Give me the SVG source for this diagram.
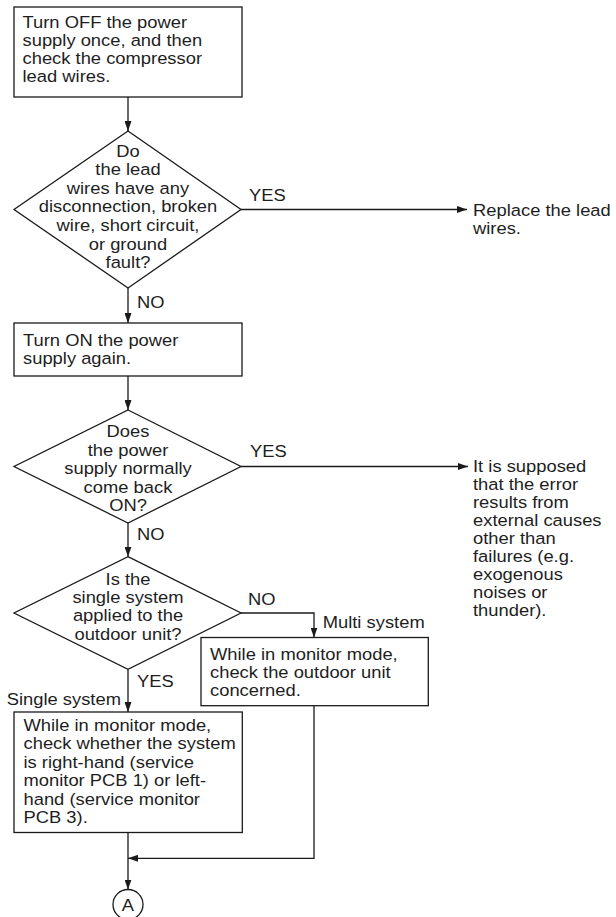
<svg xmlns="http://www.w3.org/2000/svg" width="616" height="917" viewBox="0 0 616 917">
<style>
.bg{fill:#ffffff}
.box{fill:#ffffff;stroke:#1a1a1a;stroke-width:1.3}
.ln{fill:none;stroke:#1a1a1a;stroke-width:1.3}
.t{font-family:"Liberation Sans",Arial,Helvetica,sans-serif;font-size:17px;fill:#1e1e1e}
.c{text-anchor:middle}
</style>
<defs>
<marker id="ah" markerUnits="userSpaceOnUse" markerWidth="10" markerHeight="7" refX="10" refY="3.5" orient="auto">
<path d="M0,0 L10,3.5 L0,7 z" fill="#1a1a1a"/>
</marker>
</defs>
<rect class="bg" x="0" y="0" width="616" height="917"/>

<g id="connectors">
<path class="ln" d="M128,97 V131" marker-end="url(#ah)"/>
<path class="ln" d="M241,209.5 H467" marker-end="url(#ah)"/>
<path class="ln" d="M128,288 V323" marker-end="url(#ah)"/>
<path class="ln" d="M128,376 V410" marker-end="url(#ah)"/>
<path class="ln" d="M241,466.5 H468" marker-end="url(#ah)"/>
<path class="ln" d="M128,523 V556.7" marker-end="url(#ah)"/>
<path class="ln" d="M241,613 H314 V637.5" marker-end="url(#ah)"/>
<path class="ln" d="M128,669.3 V712" marker-end="url(#ah)"/>
<path class="ln" d="M314,705.7 V858.3 H128" marker-end="url(#ah)"/>
<path class="ln" d="M128,832.5 V889.5" marker-end="url(#ah)"/>
<text class="t" transform="translate(249,200.7) scale(1.08,1)">YES</text>
<text class="t" transform="translate(137,307.7) scale(1.08,1)">NO</text>
<text class="t" transform="translate(250,457) scale(1.08,1)">YES</text>
<text class="t" transform="translate(137,540) scale(1.08,1)">NO</text>
<text class="t" transform="translate(248,605) scale(1.08,1)">NO</text>
<text class="t" transform="translate(322.7,628.3) scale(1.08,1)">Multi system</text>
<text class="t" transform="translate(137,686.7) scale(1.08,1)">YES</text>
<text class="t" transform="translate(6.7,704.5) scale(1.08,1)">Single system</text>
</g>

<g id="n1">
<rect class="box" x="14" y="7" width="228" height="90"/>
<text class="t" transform="translate(22.5,28) scale(1.08,1)"><tspan x="0" y="0">Turn OFF the power</tspan><tspan x="0" y="18">supply once, and then</tspan><tspan x="0" y="36">check the compressor</tspan><tspan x="0" y="54">lead wires.</tspan></text>
</g>

<g id="d1">
<polygon class="box" points="128,131 241,209.5 128,288 14,209.5"/>
<text class="t c" transform="translate(128,156.7) scale(1.08,1)"><tspan x="0" y="0">Do</tspan><tspan x="0" y="18.6">the lead</tspan><tspan x="0" y="37.2">wires have any</tspan><tspan x="0" y="55.8">disconnection, broken</tspan><tspan x="0" y="74.4">wire, short circuit,</tspan><tspan x="0" y="93">or ground</tspan><tspan x="0" y="111.6">fault?</tspan></text>
</g>

<g id="r1">
<text class="t" transform="translate(473,215.7) scale(1.08,1)"><tspan x="0" y="0">Replace the lead</tspan><tspan x="0" y="18">wires.</tspan></text>
</g>

<g id="n2">
<rect class="box" x="14" y="323" width="228" height="53"/>
<text class="t" transform="translate(23,345.8) scale(1.08,1)"><tspan x="0" y="0">Turn ON the power</tspan><tspan x="0" y="18">supply again.</tspan></text>
</g>

<g id="d2">
<polygon class="box" points="128,410 241,466.5 128,523 14,466.5"/>
<text class="t c" transform="translate(128,437) scale(1.08,1)"><tspan x="0" y="0">Does</tspan><tspan x="0" y="18.6">the power</tspan><tspan x="0" y="37.2">supply normally</tspan><tspan x="0" y="55.8">come back</tspan><tspan x="0" y="74.4">ON?</tspan></text>
</g>

<g id="r2">
<text class="t" transform="translate(473,472) scale(1.08,1)"><tspan x="0" y="0">It is supposed</tspan><tspan x="0" y="18">that the error</tspan><tspan x="0" y="36">results from</tspan><tspan x="0" y="54">external causes</tspan><tspan x="0" y="72">other than</tspan><tspan x="0" y="90">failures (e.g.</tspan><tspan x="0" y="108">exogenous</tspan><tspan x="0" y="126">noises or</tspan><tspan x="0" y="144">thunder).</tspan></text>
</g>

<g id="d3">
<polygon class="box" points="128,556.7 241,613 128,669.3 14,613"/>
<text class="t c" transform="translate(128,585) scale(1.08,1)"><tspan x="0" y="0">Is the</tspan><tspan x="0" y="18.2">single system</tspan><tspan x="0" y="36.4">applied to the</tspan><tspan x="0" y="54.6">outdoor unit?</tspan></text>
</g>

<g id="n3">
<rect class="box" x="201" y="637.5" width="227.3" height="68.2"/>
<text class="t" transform="translate(210,660) scale(1.08,1)"><tspan x="0" y="0">While in monitor mode,</tspan><tspan x="0" y="18.2">check the outdoor unit</tspan><tspan x="0" y="36.4">concerned.</tspan></text>
</g>

<g id="n4">
<rect class="box" x="14" y="712" width="228.3" height="120.5"/>
<text class="t" transform="translate(23.5,730.7) scale(1.08,1)"><tspan x="0" y="0">While in monitor mode,</tspan><tspan x="0" y="18.5">check whether the system</tspan><tspan x="0" y="37">is right-hand (service</tspan><tspan x="0" y="55.5">monitor PCB 1) or left-</tspan><tspan x="0" y="74">hand (service monitor</tspan><tspan x="0" y="92.5">PCB 3).</tspan></text>
</g>

<g id="a">
<circle class="box" cx="128" cy="904.5" r="15"/>
<text class="t c" transform="translate(128,910.5) scale(1.08,1)">A</text>
</g>
</svg>
